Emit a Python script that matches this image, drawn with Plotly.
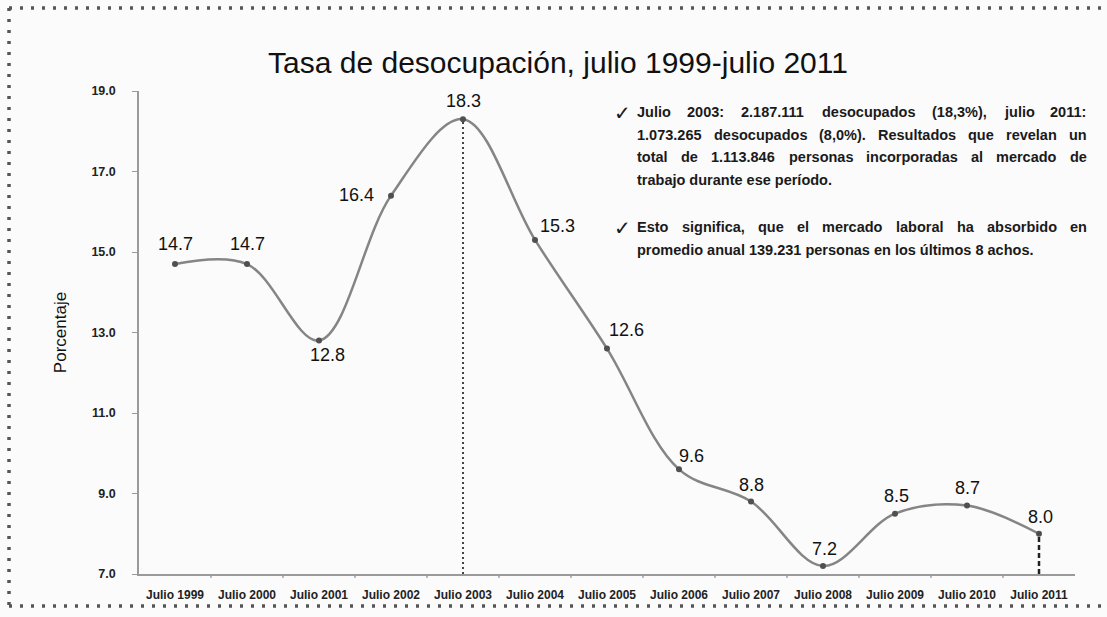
import plotly.graph_objects as go

categories = ["Julio 1999", "Julio 2000", "Julio 2001", "Julio 2002", "Julio 2003", "Julio 2004",
              "Julio 2005", "Julio 2006", "Julio 2007", "Julio 2008", "Julio 2009", "Julio 2010", "Julio 2011"]
values = [14.7, 14.7, 12.8, 16.4, 18.3, 15.3, 12.6, 9.6, 8.8, 7.2, 8.5, 8.7, 8.0]
y_ticks = [7.0, 9.0, 11.0, 13.0, 15.0, 17.0, 19.0]
# label offsets (px) for each data label
label_dx = [0, 0, 8, -35, 0, 22, 19, 12, 0, 1, 1, 0, 1]
label_dy = [20, 20, -14, 1, 18, 14, 19, 13, 17, 17, 18, 18, 17]

paragraphs = [
    ["Julio 2003: 2.187.111 desocupados (18,3%), julio 2011:",
     "1.073.265 desocupados (8,0%). Resultados que revelan un",
     "total de 1.113.846 personas incorporadas al mercado de",
     "trabajo durante ese período."],
    ["Esto significa, que el mercado laboral ha absorbido en",
     "promedio anual 139.231 personas en los últimos 8 achos."],
]

W, H = 1107, 617
L, R, T, B = 139, 32, 91, 43
pw, ph = W - L - R, H - T - B

def px(x):
    return (x - L) / pw

def py(y):
    return (H - B - y) / ph

FONT = "Arial, Liberation Sans, sans-serif"

fig = go.Figure()
fig.add_trace(go.Scatter(
    x=list(range(len(categories))), y=values, mode="lines+markers",
    line=dict(shape="spline", smoothing=1.0, color="#858585", width=2.5),
    marker=dict(size=6, color="#505050"),
    hoverinfo="skip", showlegend=False))

i03 = categories.index("Julio 2003")
i11 = categories.index("Julio 2011")
fig.add_shape(type="line", x0=i03, x1=i03, y0=7.0, y1=values[i03], xref="x", yref="y",
              line=dict(color="#444444", width=2, dash="2px,3px"))
fig.add_shape(type="line", x0=i11, x1=i11, y0=7.0, y1=values[i11], xref="x", yref="y",
              line=dict(color="#222222", width=2.5, dash="5px,3px"))

for i, v in enumerate(values):
    fig.add_annotation(x=i, y=v, text=f"{v:.1f}", showarrow=False, xref="x", yref="y",
                       xshift=label_dx[i], yshift=label_dy[i],
                       font=dict(family=FONT, size=18, color="#111111"))

# justified text block (Arial Bold advance widths, per 1000 em)
CW = {' ': 278, '.': 278, ',': 278, ':': 333, '(': 333, ')': 333, '%': 889,
      'a': 556, 'b': 611, 'c': 556, 'd': 611, 'e': 556, 'f': 333, 'g': 611, 'h': 611, 'i': 278,
      'j': 278, 'k': 556, 'l': 278, 'm': 889, 'n': 611, 'o': 611, 'p': 611, 'q': 611, 'r': 389,
      's': 556, 't': 333, 'u': 611, 'v': 556, 'w': 778, 'x': 556, 'y': 556, 'z': 500,
      'í': 278, 'ú': 611, 'E': 667, 'J': 556, 'R': 722}
for d in "0123456789":
    CW[d] = 556
TS = 14.5

def tw(s):
    return sum(CW.get(c, 600) for c in s) * TS / 1000.0

X0, X1 = 637, 1087
para_y = [112, 227]
LH = 22.7
for p, lines in enumerate(paragraphs):
    ybase = para_y[p]
    fig.add_annotation(x=px(612), y=py(ybase + 1), xref="paper", yref="paper", text="✓",
                       showarrow=False, xanchor="left", yanchor="middle",
                       font=dict(family="DejaVu Sans, Noto Sans", size=20, color="#1a1a1a"))
    for k, line in enumerate(lines):
        yy = py(ybase + LH * k)
        words = line.split(" ")
        last = (k == len(lines) - 1)
        if last:
            fig.add_annotation(x=px(X0 - 2), y=yy, xref="paper", yref="paper", text="<b>" + line + "</b>",
                               showarrow=False, xanchor="left", yanchor="middle",
                               font=dict(family=FONT, size=TS, color="#1a1a1a"))
        else:
            widths = [tw(w) for w in words]
            gap = (X1 - X0 - sum(widths)) / (len(words) - 1)
            xcur = X0
            for w, wd in zip(words, widths):
                fig.add_annotation(x=px(xcur - 2), y=yy, xref="paper", yref="paper", text="<b>" + w + "</b>",
                                   showarrow=False, xanchor="left", yanchor="middle",
                                   font=dict(family=FONT, size=TS, color="#1a1a1a"))
                xcur += wd + gap

# dotted frame
dot = dict(color="#555555", width=3.5, dash="3px,8px")
fig.add_shape(type="line", xref="paper", yref="paper", x0=px(9), x1=px(1110), y0=py(8), y1=py(8), line=dot)
fig.add_shape(type="line", xref="paper", yref="paper", x0=px(9), x1=px(1110), y0=py(606), y1=py(606), line=dot)
fig.add_shape(type="line", xref="paper", yref="paper", x0=px(9), x1=px(9), y0=py(8), y1=py(606), line=dot)

fig.update_layout(
    width=W, height=H,
    margin=dict(l=L, r=R, t=T, b=B),
    paper_bgcolor="#fbfbfb", plot_bgcolor="#fbfbfb",
    title=dict(text="Tasa de desocupación, julio 1999-julio 2011", xref="container", yref="container",
               x=558 / W, xanchor="center", y=1 - 62 / H, yanchor="middle",
               font=dict(family=FONT, size=30, color="#111111")),
    xaxis=dict(range=[-0.5, len(categories) - 0.5], tickmode="array",
               tickvals=list(range(len(categories))), ticktext=["<b>" + c + "</b>" for c in categories],
               showgrid=False, zeroline=False, showline=True, linecolor="#9a9a9a", linewidth=1.5,
               ticks="", ticklabelstandoff=9, tickfont=dict(family=FONT, size=12, color="#222222")),
    yaxis=dict(range=[7.0, 19.0], tickmode="array", tickvals=y_ticks,
               ticktext=[f"<b>{t:.1f}</b>" for t in y_ticks],
               showgrid=False, zeroline=False, showline=True, linecolor="#9a9a9a", linewidth=1.5,
               ticks="outside", ticklen=5, tickcolor="#9a9a9a", ticklabelstandoff=14,
               tickfont=dict(family=FONT, size=12.5, color="#222222"),
               title=dict(text="Porcentaje", standoff=20,
                          font=dict(family="Liberation Sans Narrow, Arial Narrow, Arial", size=17, color="#111111"))),
)
for i in range(1, len(categories)):
    fig.add_shape(type="line", xref="x", yref="paper", x0=i - 0.5, x1=i - 0.5, y0=0, y1=-0.008,
                  line=dict(color="#9a9a9a", width=1.5))

fig.write_html("out.html")
